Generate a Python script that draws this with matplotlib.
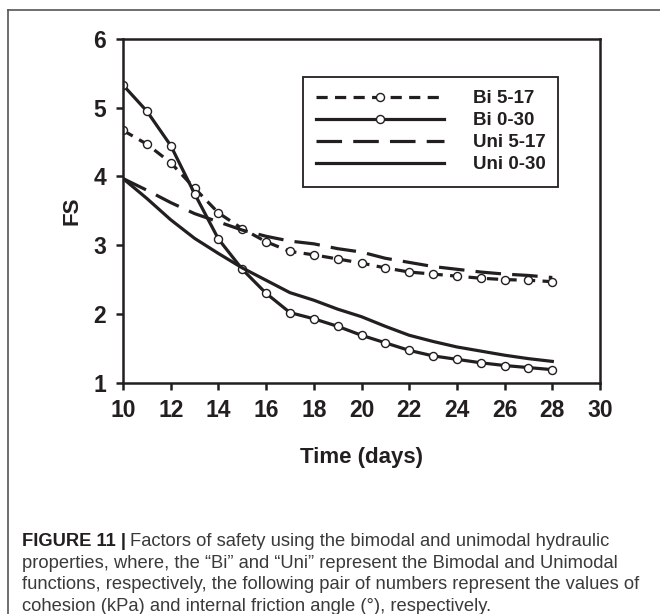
import matplotlib
matplotlib.use("Agg")
from matplotlib import pyplot as plt
from matplotlib.lines import Line2D

# days on the x axis
days = list(range(10, 29))

# factor of safety
bi_5_17 = [4.67, 4.47, 4.20, 3.83, 3.47, 3.24, 3.05, 2.91, 2.86, 2.80,
           2.74, 2.67, 2.61, 2.58, 2.55, 2.52, 2.50, 2.49, 2.47]
bi_0_30 = [5.33, 4.95, 4.45, 3.75, 3.09, 2.65, 2.30, 2.02, 1.93, 1.82,
           1.69, 1.58, 1.47, 1.39, 1.34, 1.29, 1.25, 1.22, 1.19]
uni_5_17 = [3.97, 3.80, 3.62, 3.46, 3.34, 3.22, 3.13, 3.06, 3.02, 2.95,
            2.90, 2.81, 2.75, 2.69, 2.65, 2.61, 2.58, 2.56, 2.53]
uni_0_30 = [3.97, 3.68, 3.37, 3.10, 2.88, 2.67, 2.49, 2.31, 2.20, 2.07,
            1.96, 1.82, 1.69, 1.60, 1.52, 1.46, 1.40, 1.35, 1.31]

series_labels = ["Bi 5-17", "Bi 0-30", "Uni 5-17", "Uni 0-30"]
x_ticks = [10, 12, 14, 16, 18, 20, 22, 24, 26, 28, 30]
y_ticks = [1, 2, 3, 4, 5, 6]

ink = "#231f20"
plt.rcParams["font.family"] = ["Liberation Sans", "DejaVu Sans"]

fig = plt.figure(figsize=(6.6, 6.14), dpi=100)
ax = fig.add_axes([0.1864, 0.3767, 0.7227, 0.5598])

lw = 2.3
ms = 5.8
ax.plot(days, bi_5_17, color=ink, lw=lw, dashes=(3.5, 2.3), marker="o", ms=ms,
        mfc="white", mec=ink, mew=1.0, label=series_labels[0])
ax.plot(days, bi_0_30, color=ink, lw=lw, marker="o", ms=ms,
        mfc="white", mec=ink, mew=1.0, label=series_labels[1])
ax.plot(days, uni_5_17, color=ink, lw=lw, dashes=(8, 3.5), label=series_labels[2])
ax.plot(days, uni_0_30, color=ink, lw=lw, label=series_labels[3])

ax.set_xlim(10, 30)
ax.set_ylim(1, 6)
ax.set_xticks(x_ticks)
ax.set_yticks(y_ticks)
ax.tick_params(direction="out", length=5, width=1.8, color=ink,
               labelsize=16.5, labelcolor=ink, pad=7)
for lab in ax.get_xticklabels() + ax.get_yticklabels():
    lab.set_fontweight("bold")
for sp in ax.spines.values():
    sp.set_linewidth(1.8)
    sp.set_color(ink)

ax.set_xlabel("Time (days)", fontsize=16, fontweight="bold", color=ink, labelpad=18)
ax.set_ylabel("FS", fontsize=16, fontweight="bold", color=ink, labelpad=8)

# legend with long handles and the marker in the middle
leg = ax.legend(loc="upper left", bbox_to_anchor=(0.377, 0.889), numpoints=1,
                handlelength=6.85, handletextpad=1.5, labelspacing=0.26,
                prop={"weight": "bold", "size": 13.5}, fancybox=False,
                framealpha=1, edgecolor=ink, borderpad=0.7, borderaxespad=0)
leg.get_frame().set_linewidth(1.3)
for t in leg.get_texts():
    t.set_color(ink)

# outer panel frame (top and left edges show in the crop)
fig.add_artist(Line2D([8 / 660, 1.0], [1 - 10 / 614, 1 - 10 / 614],
                      color="#555555", lw=1.2, transform=fig.transFigure))
fig.add_artist(Line2D([8 / 660, 8 / 660], [0, 1 - 10 / 614],
                      color="#555555", lw=1.2, transform=fig.transFigure))

caption_lines = [
    "properties, where, the \u201cBi\u201d and \u201cUni\u201d represent the Bimodal and Unimodal",
    "functions, respectively, the following pair of numbers represent the values of",
    "cohesion (kPa) and internal friction angle (\u00b0), respectively.",
]
cap_x = 22 / 660
cap_size = 13.2
t0 = fig.text(cap_x, 1 - 541 / 614, "FIGURE 11 |", fontsize=cap_size, fontweight="bold",
              color="#231f20", va="center")
fig.canvas.draw()
bb = t0.get_window_extent()
fig.text(bb.x1 / 660 + 0.006, 1 - 541 / 614,
         "Factors of safety using the bimodal and unimodal hydraulic",
         fontsize=cap_size, color="#3a3a3a", va="center")
for i, line in enumerate(caption_lines):
    fig.text(cap_x, 1 - (563 + 21.7 * i) / 614, line, fontsize=cap_size,
             color="#3a3a3a", va="center")

fig.savefig("out.png", dpi=100)
